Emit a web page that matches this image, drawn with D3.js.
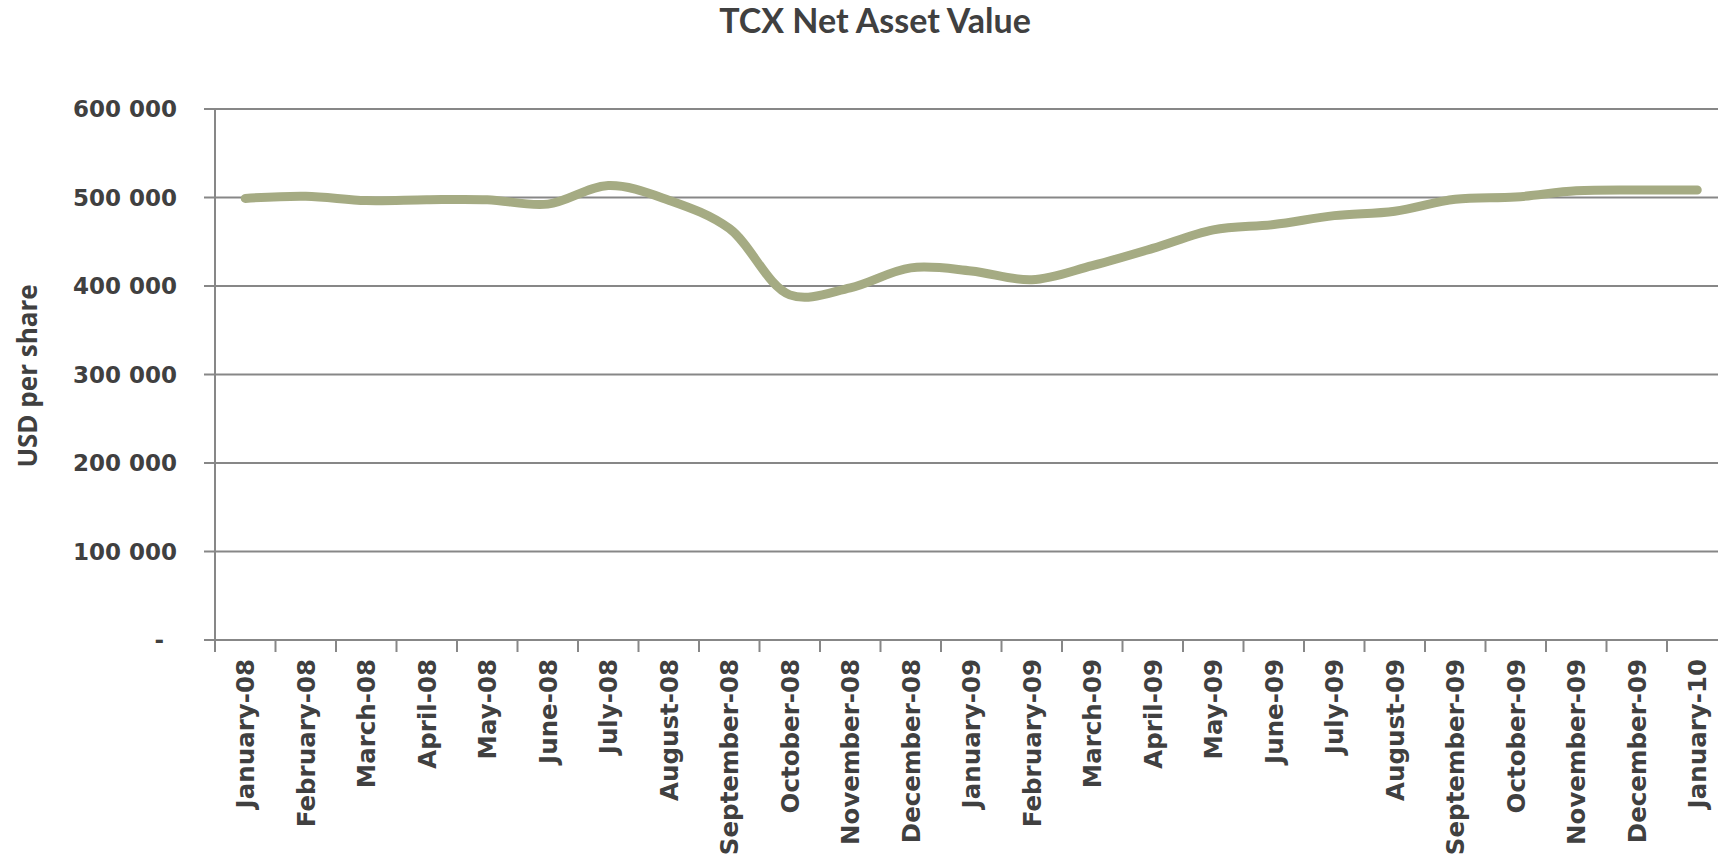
<!DOCTYPE html>
<html>
<head>
<meta charset="utf-8">
<script src="https://cdnjs.cloudflare.com/ajax/libs/d3/7.8.5/d3.min.js"></script>
<style>
    body { margin: 0; background: #fff; }
    svg text { fill: #404040; }
</style>
</head>
<body>
<div id="chart"></div>
<script>
// Monthly NAV, USD per share
var months = ["January-08", "February-08", "March-08", "April-08", "May-08", "June-08",
    "July-08", "August-08", "September-08", "October-08", "November-08", "December-08",
    "January-09", "February-09", "March-09", "April-09", "May-09", "June-09",
    "July-09", "August-09", "September-09", "October-09", "November-09", "December-09",
    "January-10"];
var nav = [499000, 501500, 496500, 497500, 497500, 492500,
    513500, 497000, 465000, 390000, 398000, 420500,
    417000, 407000, 423000, 442500, 463500, 469500,
    479500, 484500, 498000, 500500, 507500, 508500,
    508500];
var yTicks = [0, 100000, 200000, 300000, 400000, 500000, 600000];

var width = 1718, height = 861;
var plot = { left: 215, top: 109, bottom: 640, step: 60.5 };
plot.right = plot.left + plot.step * months.length;

var svg = d3.select("#chart").append("svg")
    .attr("width", width)
    .attr("height", height);

var x = d3.scaleBand()
    .domain(months)
    .range([plot.left, plot.right]);

var y = d3.scaleLinear()
    .domain([0, 600000])
    .range([plot.bottom, plot.top]);

var fmt = function(d) { return d === 0 ? "-" : d3.format(",")(d).replace(/,/g, " "); };

// horizontal gridlines (start at the outer tick)
svg.append("g").selectAll("line")
    .data(yTicks).enter()
    .append("line")
    .attr("x1", plot.left - 11)
    .attr("x2", plot.right)
    .attr("y1", function(d) { return y(d); })
    .attr("y2", function(d) { return y(d); })
    .style("stroke", "#878787")
    .style("stroke-width", 2);

// y axis line
svg.append("line")
    .attr("x1", plot.left).attr("x2", plot.left)
    .attr("y1", plot.top).attr("y2", plot.bottom + 12)
    .style("stroke", "#878787")
    .style("stroke-width", 2);

// y tick labels
svg.append("g").selectAll("text")
    .data(yTicks).enter()
    .append("text")
    .attr("x", function(d) { return d === 0 ? 164 : 177; })
    .attr("y", function(d) { return y(d); })
    .attr("dy", "0.36em")
    .attr("text-anchor", "end")
    .style("font-family", "'DejaVu Sans'")
    .style("font-weight", "bold")
    .style("font-size", "23px")
    .text(fmt);

// x ticks at category boundaries
svg.append("g").selectAll("line")
    .data(months).enter()
    .append("line")
    .attr("x1", function(d) { return x(d) + x.step(); })
    .attr("x2", function(d) { return x(d) + x.step(); })
    .attr("y1", plot.bottom)
    .attr("y2", plot.bottom + 12)
    .style("stroke", "#878787")
    .style("stroke-width", 2);

// x labels, rotated
svg.append("g").selectAll("text")
    .data(months).enter()
    .append("text")
    .attr("transform", function(d) {
        return "translate(" + (x(d) + x.bandwidth() / 2) + "," + 659 + ") rotate(-90)";
    })
    .attr("dy", "0.36em")
    .attr("text-anchor", "end")
    .style("font-family", "'DejaVu Sans'")
    .style("font-weight", "bold")
    .style("font-size", "24.5px")
    .text(function(d) { return d; });

// NAV line
var line = d3.line()
    .x(function(d, i) { return x(months[i]) + x.bandwidth() / 2; })
    .y(function(d) { return y(d); })
    .curve(d3.curveCatmullRom.alpha(0.5));

svg.append("path")
    .datum(nav)
    .attr("d", line)
    .style("fill", "none")
    .style("stroke", "#A5AB83")
    .style("stroke-width", 9)
    .style("stroke-linecap", "round")
    .style("stroke-linejoin", "round");

// title
svg.append("text")
    .attr("x", 875)
    .attr("y", 33)
    .attr("text-anchor", "middle")
    .style("font-family", "Lato")
    .style("font-weight", "bold")
    .style("font-size", "34px")
    .text("TCX Net Asset Value");

// y axis label
svg.append("text")
    .attr("transform", "translate(28,376) rotate(-90)")
    .attr("dy", "0.36em")
    .attr("text-anchor", "middle")
    .style("font-family", "'Open Sans'")
    .style("font-weight", "bold")
    .style("font-size", "26px")
    .text("USD per share");
</script>
</body>
</html>
